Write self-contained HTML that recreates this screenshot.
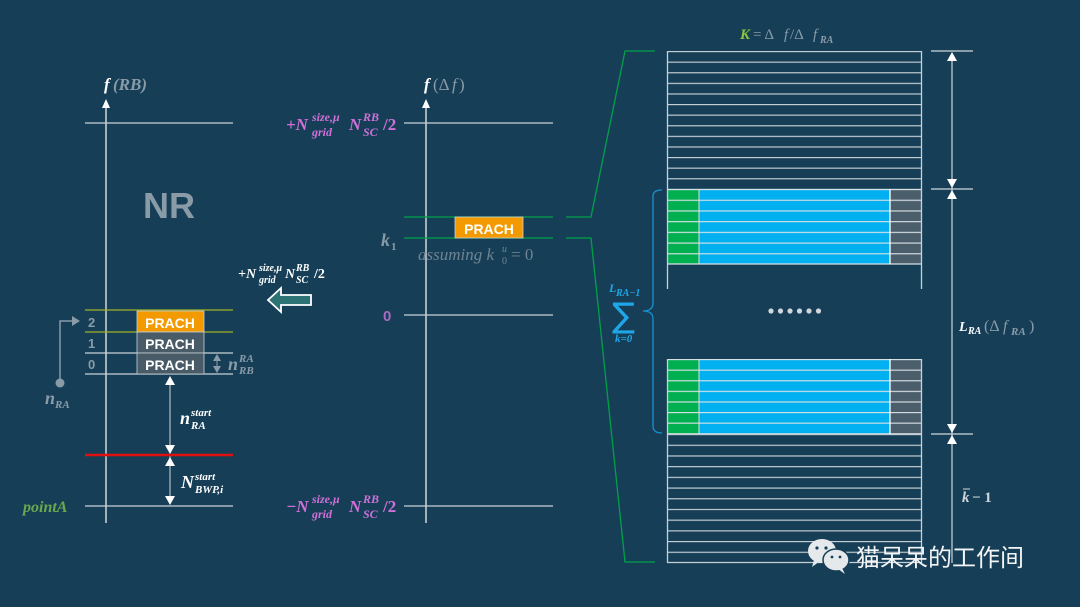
<!DOCTYPE html>
<html><head><meta charset="utf-8"><style>
html,body{margin:0;padding:0;background:#163f57;}
svg{display:block}
text{font-family:"Liberation Serif","DejaVu Serif",serif}
.s{font-family:"Liberation Sans","DejaVu Sans",sans-serif;font-style:normal;font-weight:bold}
</style></head><body>
<svg width="1080" height="607" viewBox="0 0 1080 607" xmlns="http://www.w3.org/2000/svg">
<defs>
<pattern id="rowsA" patternUnits="userSpaceOnUse" x="0" y="51" width="10" height="10.6"><line x1="0" y1="0.5" x2="10" y2="0.5" stroke="#c8d0d6" stroke-width="1.3"/></pattern>
<pattern id="rowsB" patternUnits="userSpaceOnUse" x="0" y="189" width="10" height="10.7"><line x1="0" y1="0.5" x2="10" y2="0.5" stroke="#d8e0e6" stroke-width="1.3"/></pattern>
<pattern id="rowsC" patternUnits="userSpaceOnUse" x="0" y="359" width="10" height="10.6"><line x1="0" y1="0.5" x2="10" y2="0.5" stroke="#d8e0e6" stroke-width="1.3"/></pattern>
<pattern id="rowsD" patternUnits="userSpaceOnUse" x="0" y="434" width="10" height="10.7"><line x1="0" y1="0.5" x2="10" y2="0.5" stroke="#c8d0d6" stroke-width="1.3"/></pattern>
</defs>
<rect width="1080" height="607" fill="#163f57"/>
<g font-style="italic" font-weight="bold">

<!-- LEFT PANEL -->
<line x1="106" y1="104" x2="106" y2="523" stroke="#d0d6da" stroke-width="1.5"/>
<polygon points="106,99 102,108 110,108" fill="#fff"/>
<text x="104" y="90" fill="#fff" font-size="17">f</text><text x="113" y="90" fill="#8a9ba8" font-size="17">(RB)</text>
<line x1="85" y1="123" x2="233" y2="123" stroke="#c8d0d6" stroke-width="1.3"/>
<text x="143" y="218" class="s" fill="#8a9ba8" font-size="36">NR</text>
<line x1="85" y1="310" x2="233" y2="310" stroke="#a2b223" stroke-width="1.3"/>
<line x1="85" y1="332" x2="233" y2="332" stroke="#a2b223" stroke-width="1.3"/>
<line x1="85" y1="353" x2="233" y2="353" stroke="#c8d0d6" stroke-width="1.3"/>
<line x1="85" y1="374" x2="233" y2="374" stroke="#c8d0d6" stroke-width="1.3"/>
<rect x="137" y="311" width="67" height="21" fill="#f39a00" stroke="#c8d0d6" stroke-width="0.8"/>
<rect x="137" y="332" width="67" height="21" fill="#4a5b68" stroke="#c8d0d6" stroke-width="0.8"/>
<rect x="137" y="353" width="67" height="21" fill="#4a5b68" stroke="#c8d0d6" stroke-width="0.8"/>
<text x="170" y="328" class="s" fill="#fff" font-size="14" text-anchor="middle">PRACH</text>
<text x="170" y="349" class="s" fill="#fff" font-size="14" text-anchor="middle">PRACH</text>
<text x="170" y="370" class="s" fill="#fff" font-size="14" text-anchor="middle">PRACH</text>
<text x="88" y="327" class="s" fill="#8a9ba8" font-size="13">2</text>
<text x="88" y="348" class="s" fill="#8a9ba8" font-size="13">1</text>
<text x="88" y="369" class="s" fill="#8a9ba8" font-size="13">0</text>
<polyline points="60,383 60,321 74,321" fill="none" stroke="#8a9ba8" stroke-width="1.5"/>
<polygon points="80,321 72,316 72,326" fill="#8a9ba8"/>
<circle cx="60" cy="383" r="4.5" fill="#8a9ba8"/>
<text x="45" y="404" fill="#8a9ba8" font-size="18">n</text><text x="55" y="408" fill="#8a9ba8" font-size="11">RA</text>
<line x1="217" y1="357" x2="217" y2="371" stroke="#8a9ba8" stroke-width="1"/>
<polygon points="217,354 213,361 221,361" fill="#8a9ba8"/><polygon points="217,373 213,366 221,366" fill="#8a9ba8"/>
<text x="228" y="370" fill="#8a9ba8" font-size="18">n</text><text x="239" y="362" fill="#8a9ba8" font-size="11">RA</text><text x="239" y="374" fill="#8a9ba8" font-size="11">RB</text>
<line x1="170" y1="380" x2="170" y2="500" stroke="#d0d6da" stroke-width="1"/>
<polygon points="170,376 165,385 175,385" fill="#fff"/>
<polygon points="170,454 165,445 175,445" fill="#fff"/>
<polygon points="170,457 165,466 175,466" fill="#fff"/>
<polygon points="170,505 165,496 175,496" fill="#fff"/>
<line x1="85" y1="455" x2="233" y2="455" stroke="#e01010" stroke-width="2.5"/>
<line x1="85" y1="506" x2="233" y2="506" stroke="#c8d0d6" stroke-width="1.3"/>
<text x="180" y="424" fill="#fff" font-size="18">n</text><text x="191" y="416" fill="#fff" font-size="11">start</text><text x="191" y="429" fill="#fff" font-size="11">RA</text>
<text x="181" y="488" fill="#fff" font-size="18">N</text><text x="195" y="480" fill="#fff" font-size="11">start</text><text x="195" y="493" fill="#fff" font-size="11">BWP,i</text>
<text x="23" y="512" fill="#6aa84f" font-size="16">pointA</text>

<!-- hollow arrow -->
<polygon points="268,300 281,288 281,295 311,295 311,305 281,305 281,312" fill="#2d7275" stroke="#fff" stroke-width="1.8"/>
<text x="238" y="278" fill="#fff" font-size="14">+N</text><text x="259" y="271" fill="#fff" font-size="10">size,μ</text><text x="259" y="283" fill="#fff" font-size="10">grid</text><text x="285" y="278" fill="#fff" font-size="14">N</text><text x="296" y="271" fill="#fff" font-size="10">RB</text><text x="296" y="283" fill="#fff" font-size="10">SC</text><text x="314" y="278" fill="#fff" font-size="14" font-style="normal">/2</text>

<!-- MIDDLE PANEL -->
<line x1="426" y1="104" x2="426" y2="523" stroke="#d0d6da" stroke-width="1.5"/>
<polygon points="426,99 422,108 430,108" fill="#fff"/>
<text x="424" y="90" fill="#fff" font-size="17">f</text><text x="433" y="90" fill="#8a9ba8" font-size="17" font-style="normal" font-weight="normal">(Δ</text><text x="452" y="90" fill="#8a9ba8" font-size="17" font-weight="normal">f</text><text x="459" y="90" fill="#8a9ba8" font-size="17" font-style="normal" font-weight="normal">)</text>
<line x1="404" y1="123" x2="553" y2="123" stroke="#c8d0d6" stroke-width="1.3"/>
<line x1="404" y1="315" x2="553" y2="315" stroke="#c8d0d6" stroke-width="1.3"/>
<line x1="404" y1="506" x2="553" y2="506" stroke="#c8d0d6" stroke-width="1.3"/>
<line x1="404" y1="217" x2="553" y2="217" stroke="#00a04a" stroke-width="1.3"/>
<line x1="404" y1="238" x2="553" y2="238" stroke="#00a04a" stroke-width="1.3"/>
<polyline points="566,217 591,217 625,51 655,51" fill="none" stroke="#00a04a" stroke-width="1.3"/>
<polyline points="566,238 591,238 625,562 655,562" fill="none" stroke="#00a04a" stroke-width="1.3"/>
<rect x="455" y="217" width="68" height="21" fill="#f39a00" stroke="#c8d0d6" stroke-width="0.8"/>
<text x="489" y="234" class="s" fill="#fff" font-size="14" text-anchor="middle">PRACH</text>
<text x="381" y="246" fill="#8a9ba8" font-size="18">k</text><text x="391" y="250" fill="#8a9ba8" font-size="11" font-style="normal">1</text>
<text x="418" y="260" fill="#6f8392" font-size="17" font-weight="normal">assuming k</text><text x="502" y="252" fill="#6f8392" font-size="10" font-weight="normal">u</text><text x="502" y="264" fill="#6f8392" font-size="10" font-weight="normal" font-style="normal">0</text><text x="511" y="260" fill="#6f8392" font-size="17" font-weight="normal" font-style="normal"> = 0</text>
<text x="383" y="321" class="s" fill="#a86ac0" font-size="15">0</text>
<g fill="#d070d8">
<text x="286" y="130" font-size="17">+N</text><text x="312" y="121" font-size="12">size,μ</text><text x="312" y="136" font-size="12">grid</text><text x="349" y="130" font-size="17">N</text><text x="363" y="121" font-size="12">RB</text><text x="363" y="136" font-size="12">SC</text><text x="383" y="130" font-size="17" font-style="normal">/2</text>
<text x="286" y="512" font-size="17">−N</text><text x="312" y="503" font-size="12">size,μ</text><text x="312" y="518" font-size="12">grid</text><text x="349" y="512" font-size="17">N</text><text x="363" y="503" font-size="12">RB</text><text x="363" y="518" font-size="12">SC</text><text x="383" y="512" font-size="17" font-style="normal">/2</text>
</g>

<!-- RIGHT GRID -->
<text x="740" y="39" fill="#8dc63f" font-size="15">K</text><text x="753" y="39" fill="#8a9ba8" font-size="15" font-weight="normal" font-style="normal"> = Δ</text><text x="784" y="39" fill="#8a9ba8" font-size="15" font-weight="normal">f</text><text x="790" y="39" fill="#8a9ba8" font-size="15" font-weight="normal" font-style="normal"> /Δ</text><text x="813" y="39" fill="#8a9ba8" font-size="15" font-weight="normal">f</text><text x="820" y="43" fill="#8a9ba8" font-size="10">RA</text>
<rect x="667" y="51" width="255" height="138" fill="url(#rowsA)"/>
<line x1="667.5" y1="51" x2="667.5" y2="189" stroke="#c8d0d6" stroke-width="1.3"/>
<line x1="921.5" y1="51" x2="921.5" y2="189" stroke="#c8d0d6" stroke-width="1.3"/>
<rect x="667" y="189" width="32" height="75" fill="#00b050"/>
<rect x="699" y="189" width="191" height="75" fill="#00b0f0"/>
<rect x="890" y="189" width="32" height="75" fill="#4b5e6c"/>
<rect x="667" y="189" width="255" height="75" fill="url(#rowsB)"/>
<line x1="667" y1="264" x2="922" y2="264" stroke="#d8e0e6" stroke-width="1.3"/>
<line x1="699" y1="189" x2="699" y2="264" stroke="#d8e0e6" stroke-width="1"/>
<line x1="890" y1="189" x2="890" y2="264" stroke="#fff" stroke-width="1.3"/>
<line x1="667.5" y1="189" x2="667.5" y2="289" stroke="#c8d0d6" stroke-width="1.3"/>
<line x1="921.5" y1="189" x2="921.5" y2="289" stroke="#c8d0d6" stroke-width="1.3"/>
<g fill="#d0d6da"><circle cx="771" cy="311" r="2.6"/><circle cx="780.5" cy="311" r="2.6"/><circle cx="790" cy="311" r="2.6"/><circle cx="799.5" cy="311" r="2.6"/><circle cx="809" cy="311" r="2.6"/><circle cx="818.5" cy="311" r="2.6"/></g>
<rect x="667" y="359" width="32" height="75" fill="#00b050"/>
<rect x="699" y="359" width="191" height="75" fill="#00b0f0"/>
<rect x="890" y="359" width="32" height="75" fill="#4b5e6c"/>
<rect x="667" y="359" width="255" height="75" fill="url(#rowsC)"/>
<line x1="699" y1="359" x2="699" y2="434" stroke="#d8e0e6" stroke-width="1"/>
<line x1="890" y1="359" x2="890" y2="434" stroke="#fff" stroke-width="1.3"/>
<line x1="667.5" y1="359" x2="667.5" y2="434" stroke="#c8d0d6" stroke-width="1.3"/>
<line x1="921.5" y1="359" x2="921.5" y2="434" stroke="#c8d0d6" stroke-width="1.3"/>
<rect x="667" y="434" width="255" height="129" fill="url(#rowsD)"/>
<line x1="667" y1="562.5" x2="922" y2="562.5" stroke="#c8d0d6" stroke-width="1.3"/>
<line x1="667.5" y1="434" x2="667.5" y2="563" stroke="#c8d0d6" stroke-width="1.3"/>
<line x1="921.5" y1="434" x2="921.5" y2="563" stroke="#c8d0d6" stroke-width="1.3"/>

<!-- brace -->
<path d="M662,190 Q653,190 653,196 L653,303 Q653,311 643,311 Q653,311 653,319 L653,426 Q653,433 662,433" fill="none" stroke="#1a8fd0" stroke-width="1.3"/>
<g fill="#1ea6e8">
<text x="609" y="292" font-size="12">L</text><text x="616" y="296" font-size="10">RA−1</text>
<text x="612" y="327" font-size="34" font-style="normal" font-weight="normal" style="font-family:'DejaVu Sans',sans-serif">∑</text>
<text x="615" y="342" font-size="11">k=0</text>
</g>

<!-- right dimension -->
<line x1="952" y1="55" x2="952" y2="563" stroke="#d0d6da" stroke-width="1.2"/>
<line x1="931" y1="51" x2="973" y2="51" stroke="#d0d6da" stroke-width="1.2"/>
<line x1="931" y1="189" x2="973" y2="189" stroke="#d0d6da" stroke-width="1.2"/>
<line x1="931" y1="434" x2="973" y2="434" stroke="#d0d6da" stroke-width="1.2"/>
<g fill="#fff">
<polygon points="952,52 947,61 957,61"/><polygon points="952,188 947,179 957,179"/>
<polygon points="952,190 947,199 957,199"/><polygon points="952,433 947,424 957,424"/>
<polygon points="952,435 947,444 957,444"/>
</g>
<text x="959" y="331" fill="#fff" font-size="14">L</text><text x="968" y="334" fill="#fff" font-size="10">RA</text><text x="984" y="331" fill="#8a9ba8" font-size="16" font-weight="normal" font-style="normal">(Δ</text><text x="1003" y="331" fill="#8a9ba8" font-size="16" font-weight="normal">f</text><text x="1011" y="335" fill="#8a9ba8" font-size="11">RA</text><text x="1029" y="331" fill="#8a9ba8" font-size="16" font-weight="normal" font-style="normal">)</text>
<text x="962" y="502" fill="#d0d6da" font-size="15">k</text><line x1="963" y1="489" x2="970" y2="489" stroke="#d0d6da" stroke-width="1"/><text x="972" y="502" fill="#d0d6da" font-size="15" font-style="normal"> − 1</text>
</g>

<!-- watermark -->
<g fill="#e6e9eb">
<ellipse cx="822" cy="551" rx="14" ry="12"/>
<polygon points="814,560 812,567 820,561"/>
<ellipse cx="836" cy="560" rx="13" ry="11" stroke="#163f57" stroke-width="1.5"/>
<polygon points="842,568 845,574 838,569"/>
</g>
<g fill="#163f57"><circle cx="817" cy="548" r="1.6"/><circle cx="826" cy="548" r="1.6"/><circle cx="832" cy="557" r="1.4"/><circle cx="840" cy="557" r="1.4"/></g>
<text x="856" y="566" fill="#f2f4f5" font-size="24" font-style="normal" font-weight="normal" style="font-family:'Noto Sans CJK SC','WenQuanYi Zen Hei',sans-serif">猫呆呆的工作间</text>
</svg>
</body></html>
